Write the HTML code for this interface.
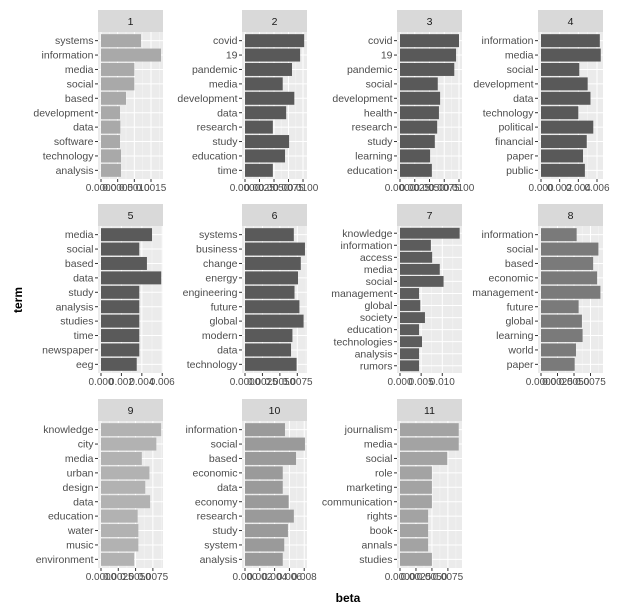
<!DOCTYPE html>
<html><head><meta charset="utf-8"><style>
html,body{margin:0;padding:0;background:#fff;}
svg{display:block;font-family:"Liberation Sans Narrow","Liberation Sans",sans-serif;}
</style></head><body>
<svg id="chart" width="629" height="608" viewBox="0 0 629 608" xmlns="http://www.w3.org/2000/svg">
<text x="22" y="300" transform="rotate(-90 22 300)" text-anchor="middle" font-size="12" font-weight="bold" fill="#000">term</text>
<text x="348" y="602" text-anchor="middle" font-size="12" font-weight="bold" fill="#000">beta</text>
</svg>
<script>
const panelIds = ['1','2','3','4','5','6','7','8','9','10','11'];
const terms1 = ['systems','information','media','social','based','development','data','software','technology','analysis'];
const beta1 = [0.0012,0.0018,0.001,0.001,0.00075,0.00057,0.00058,0.00057,0.0006,0.0006];
const terms2 = ['covid','19','pandemic','media','development','data','research','study','education','time'];
const beta2 = [0.0102,0.0095,0.0081,0.0065,0.0085,0.0071,0.0048,0.0076,0.0069,0.0048];
const terms3 = ['covid','19','pandemic','social','development','health','research','study','learning','education'];
const beta3 = [0.01,0.0095,0.0092,0.0064,0.0068,0.0066,0.0063,0.0059,0.0051,0.0054];
const terms4 = ['information','media','social','development','data','technology','political','financial','paper','public'];
const beta4 = [0.0063,0.0064,0.0041,0.005,0.0053,0.004,0.0056,0.0049,0.0045,0.0047];
const terms5 = ['media','social','based','data','study','analysis','studies','time','newspaper','eeg'];
const beta5 = [0.005,0.00375,0.0045,0.0059,0.00375,0.00375,0.00375,0.00375,0.00375,0.0035];
const terms6 = ['systems','business','change','energy','engineering','future','global','modern','data','technology'];
const beta6 = [0.007,0.0086,0.008,0.0076,0.0071,0.0078,0.0084,0.0068,0.0066,0.0074];
const terms7 = ['knowledge','information','access','media','social','management','global','society','education','technologies','analysis','rumors'];
const beta7 = [0.0141,0.0073,0.0076,0.0094,0.0103,0.0045,0.0048,0.0059,0.0045,0.0052,0.0045,0.0045];
const terms8 = ['information','social','based','economic','management','future','global','learning','world','paper'];
const beta8 = [0.0054,0.0087,0.0079,0.0085,0.009,0.0057,0.0062,0.0063,0.0053,0.0051];
const terms9 = ['knowledge','city','media','urban','design','data','education','water','music','environment'];
const beta9 = [0.0087,0.008,0.0059,0.007,0.0064,0.0071,0.0053,0.0054,0.0054,0.0048];
const terms10 = ['information','social','based','economic','data','economy','research','study','system','analysis'];
const beta10 = [0.0054,0.0081,0.0069,0.0051,0.0051,0.0059,0.0066,0.0058,0.0053,0.0051];
const terms11 = ['journalism','media','social','role','marketing','communication','rights','book','annals','studies'];
const beta11 = [0.0092,0.0092,0.0074,0.005,0.005,0.005,0.0044,0.0044,0.0044,0.005];
const domainMax = [0.00177,0.01017,0.01,0.00632,0.00578,0.00846,0.01395,0.00894,0.00853,0.00797,0.00924];
const ticks4 = [0,0.0005,0.001,0.0015];
const tickLabels1 = ['0.0000','0.0005','0.0010','0.0015'];
const ticksA = [0,0.0025,0.005,0.0075,0.01];
const tickLabelsA = ['0.0000','0.0025','0.0050','0.0075','0.0100'];
const ticksB = [0,0.002,0.004,0.006];
const tickLabelsB = ['0.000','0.002','0.004','0.006'];
const ticksC = [0,0.0025,0.005,0.0075];
const tickLabelsC = ['0.0000','0.0025','0.0050','0.0075'];
const ticksD = [0,0.005,0.01];
const tickLabelsD = ['0.000','0.005','0.010'];
const ticksE = [0,0.002,0.004,0.006,0.008];
const tickLabelsE = ['0.000','0.002','0.004','0.006','0.008'];

const termsAll=[terms1,terms2,terms3,terms4,terms5,terms6,terms7,terms8,terms9,terms10,terms11];
const betaAll=[beta1,beta2,beta3,beta4,beta5,beta6,beta7,beta8,beta9,beta10,beta11];
const tickSets=[[ticks4,tickLabels1],[ticksA,tickLabelsA],[ticksA,tickLabelsA],[ticksB,tickLabelsB],[ticksB,tickLabelsB],[ticksC,tickLabelsC],[ticksD,tickLabelsD],[ticksC,tickLabelsC],[ticksC,tickLabelsC],[ticksE,tickLabelsE],[ticksC,tickLabelsC]];
const colors=['#a9a9a9','#595959','#595959','#595959','#5a5a5a','#5a5a5a','#5c5c5c','#7a7a7a','#b2b2b2','#9a9a9a','#a3a3a3'];
const colLeft=[98,242,397,538];
const rowStripTop=[10,204,399];
const PW=65, PH=147, SH=22;
const NS='http://www.w3.org/2000/svg';
const svg=document.getElementById('chart');
function mk(tag,attrs,parent){const e=document.createElementNS(NS,tag);for(const k in attrs)e.setAttribute(k,attrs[k]);(parent||svg).appendChild(e);return e;}

panelIds.forEach((pid,i)=>{
  const r=Math.floor(i/4), c=i%4;
  const L=colLeft[c], T=rowStripTop[r]+SH;
  const g=mk('g',{});
  
  
  const strip=mk('rect',{x:L,y:rowStripTop[r],width:PW,height:SH,fill:'#d9d9d9'},g);
  
  
  const st=mk('text',{x:L+PW/2,y:rowStripTop[r]+15,'text-anchor':'middle','font-size':'10.5',fill:'#1a1a1a'},g);
  st.textContent=pid;
  
  
  const bg=mk('rect',{x:L,y:T,width:PW,height:PH,fill:'#ebebeb'},g);
  
  
  const D=domainMax[i];
  const xs=v=>L+3+v/D*59;
  const [tv,tl]=tickSets[i];
  for(let k=0;k<tv.length;k++){
    const step=tv.length>1?tv[1]-tv[0]:0;
    const mv=tv[k]+step/2;
    if(xs(mv)<L+PW) mk('line',{x1:xs(mv),x2:xs(mv),y1:T,y2:T+PH,stroke:'#f5f5f5','stroke-width':0.6},g);
  }
  tv.forEach((v,k)=>{
    const x=xs(v);
    const gl=mk('line',{x1:x,x2:x,y1:T,y2:T+PH,stroke:'#fff','stroke-width':1},g);
    
    
    mk('line',{x1:x,x2:x,y1:T+PH,y2:T+PH+3,stroke:'#333','stroke-width':1},g);
    const t=mk('text',{x:x,y:T+PH+12,'text-anchor':'middle','font-size':'10',fill:'#4d4d4d'},g);
    t.textContent=tl[k];
    
    
  });
  const terms=termsAll[i], vals=betaAll[i], n=terms.length;
  const sp=PH/(n-1+1.2);
  terms.forEach((term,j)=>{
    const cy=T+sp*(0.6+j);
    mk('line',{x1:L,x2:L+PW,y1:cy,y2:cy,stroke:'#fff','stroke-width':1},g);
    const b=mk('rect',{x:xs(0),y:cy-sp*0.45,width:Math.max(0,xs(vals[j])-xs(0)),height:sp*0.9,fill:colors[i]},g);
    
    
    mk('line',{x1:L-3,x2:L,y1:cy,y2:cy,stroke:'#333','stroke-width':1},g);
    const t=mk('text',{x:L-4.5,y:cy+3.6,'text-anchor':'end','font-size':'10.5',fill:'#4d4d4d'},g);
    t.textContent=term;
    
    
  });
});
</script>
</body></html>
